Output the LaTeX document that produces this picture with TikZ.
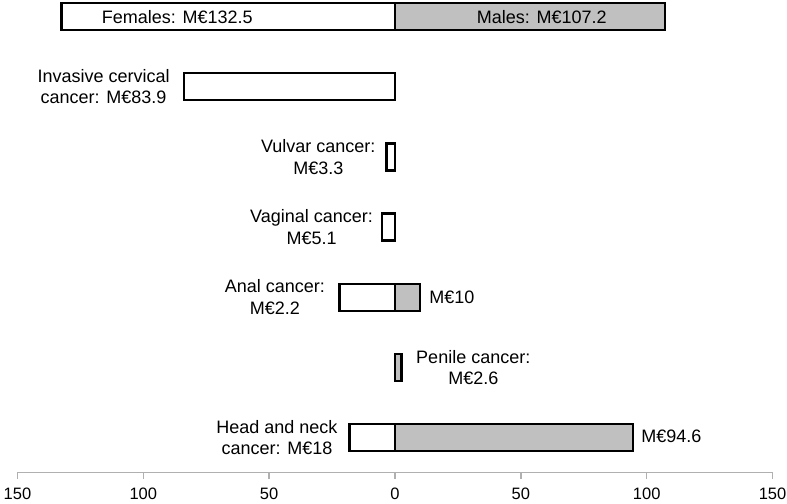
\documentclass[tikz,border=0pt]{standalone}
\usepackage{fontspec}
\setmainfont{Liberation Sans}
\usetikzlibrary{positioning}
\definecolor{barGrey}{HTML}{C0C0C0}
\definecolor{axisGrey}{HTML}{B0B0B0}

\begin{document}
\begin{tikzpicture}[x=2.517pt,y=-1pt,
	bar/.style={draw=black,line width=2.4pt},
	fem/.style={bar,fill=white},
	mal/.style={bar,fill=barGrey},
	lbl/.style={align=center,inner sep=0pt,font=\fontsize{18}{21.5}\selectfont},
	ticklbl/.style={inner sep=0pt,font=\fontsize{16.5}{19}\selectfont},
	axis/.style={draw=axisGrey,line width=1.5pt}]
	\useasboundingbox (-156.93,0) rectangle (155.74,503);

	\draw[fem] (-132.5,3) rectangle (0,30);
	\draw[mal] (0,3) rectangle (107.2,30);
	\node[lbl] (fem) at (-86.5,17) {Females: M€132.5};
	\node[lbl] (mal) at (58.3,17) {Males: M€107.2};

	\draw[fem] (-83.9,73.2) rectangle (0,100.2);
	\coordinate (cerv) at (-83.9,86.7);
	\node[lbl] (cervL) [left=14pt of cerv] {Invasive cervical\\cancer: M€83.9};

	\draw[fem] (-3.3,143.4) rectangle (0,170.4);
	\coordinate (vulv) at (-3.3,156.9);
	\node[lbl] (vulvL) [left=11pt of vulv] {Vulvar cancer:\\M€3.3};

	\draw[fem] (-5.1,213.6) rectangle (0,240.6);
	\coordinate (vagi) at (-5.1,227.1);
	\node[lbl] (vagiL) [left=9pt of vagi] {Vaginal cancer:\\M€5.1};

	\draw[fem] (-22,283.8) rectangle (0,310.8);
	\draw[mal] (0,283.8) rectangle (10,310.8);
	\coordinate (analF) at (-22,297.3);
	\coordinate (analM) at (10,297.3);
	\node[lbl] (analL) [left=14.5pt of analF] {Anal cancer:\\M€2.2};
	\node[lbl] (analR) [right=9pt of analM] {M€10};

	\draw[mal] (0,354) rectangle (2.6,381);
	\coordinate (peni) at (2.6,367.5);
	\node[lbl] (peniR) [right=14.5pt of peni] {Penile cancer:\\M€2.6};

	\draw[fem] (-18,424.2) rectangle (0,451.2);
	\draw[mal] (0,424.2) rectangle (94.6,451.2);
	\coordinate (headF) at (-18,437.7);
	\coordinate (headM) at (94.6,436);
	\node[lbl] (headL) [left=12pt of headF] {Head and neck\\cancer: M€18};
	\node[lbl] (headR) [right=8pt of headM] {M€94.6};

	\coordinate (axL) at (-150,472.3);
	\coordinate (axR) at (150,472.3);
	\draw[axis] (axL) -- (axR);
	\foreach \v/\t [count=\i] in {-150/150,-100/100,-50/50,0/0,50/50,100/100,150/150} {
		\draw[axis] (\v,472.3) -- (\v,478.5);
		\node[ticklbl,anchor=base] (tk\i) at (\v,499) {\t};
	}
\end{tikzpicture}
\end{document}
